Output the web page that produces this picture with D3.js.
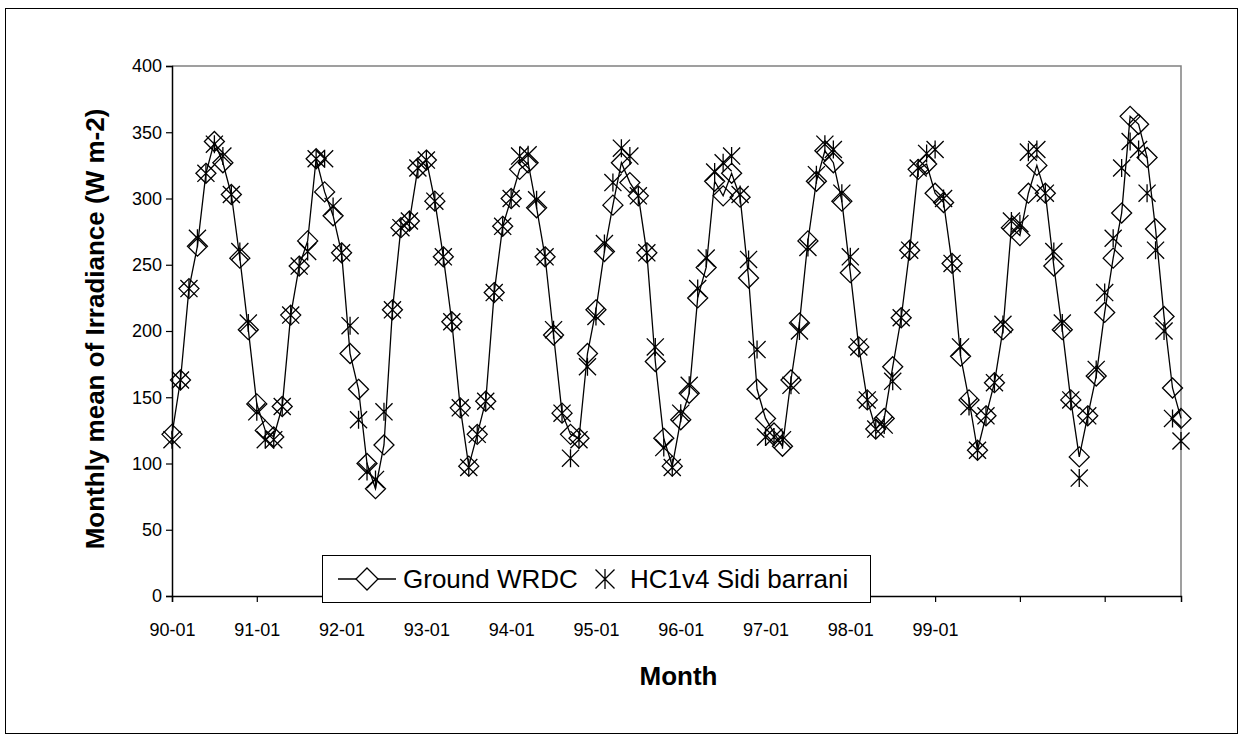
<!DOCTYPE html>
<html>
<head>
<meta charset="utf-8">
<title>Monthly mean of Irradiance</title>
<script src="https://d3js.org/d3.v7.min.js"></script>
<style>
  body { margin: 0; background: #fff; }
  text { font-family: Arial, "Liberation Sans", sans-serif; fill: #000; }
</style>
</head>
<body>
<svg width="1244" height="743"></svg>
<script>

// series values, one per month (120 points)
const groundWRDC = [
  122,163,232,264,319,343,327,303,255,201,145,125,
  120,143,212,249,268,330,305,287,259,183,156,100,
  81,114,216,278,283,323,329,298,256,207,142,98,
  122,147,229,279,300,322,327,293,256,197,138,122,
  119,183,216,260,295,327,312,302,259,177,119,98,
  133,153,225,248,313,302,319,301,240,156,134,123,
  113,163,206,268,313,336,327,298,244,188,148,126,
  134,173,210,261,322,326,304,297,251,181,148,110,
  136,161,201,278,272,304,325,304,249,201,148,105,
  136,166,214,255,289,362,356,331,277,211,157,134
];
const hc1v4 = [
  118,163,232,270,319,341,332,303,260,206,139,118,
  118,143,212,249,260,330,330,294,259,204,133,94,
  88,139,216,278,283,323,329,298,256,207,142,97,
  122,147,229,279,300,332,333,299,256,201,138,104,
  118,173,211,266,312,338,332,302,259,188,112,97,
  138,159,232,255,320,327,332,303,254,186,120,120,
  118,159,200,263,318,341,337,304,256,188,148,126,
  129,162,210,261,323,334,337,300,251,188,143,110,
  136,161,205,283,281,335,337,304,260,206,148,89,
  136,171,229,270,323,343,337,304,261,200,134,117
];

// category tick labels, shown every 10th month
const tickLabels = ["90-01","91-01","92-01","93-01","94-01","95-01","96-01","97-01","98-01","99-01"];
const yTicks = [0,50,100,150,200,250,300,350,400];

const seriesNames = ["Ground WRDC", "HC1v4 Sidi barrani"];

const svg = d3.select('svg');

// outer chart border
svg.append('rect')
  .attr('x', 5.5).attr('y', 8.5)
  .attr('width', 1232).attr('height', 725)
  .attr('fill', 'none').attr('stroke', '#000').attr('stroke-width', 1);

const margin = { left: 172, right: 1181, top: 66, bottom: 596 };

const x = d3.scaleLinear()
  .domain([0, groundWRDC.length - 1])
  .range([margin.left, margin.right]);

const y = d3.scaleLinear()
  .domain([0, 400])
  .range([margin.bottom, margin.top]);

// plot area frame (top & right, grey)
svg.append('path')
  .attr('d', `M${margin.left},${margin.top}H${margin.right}V${margin.bottom}`)
  .attr('fill', 'none').attr('stroke', '#808080').attr('stroke-width', 1.5);

// y axis
const yAxis = d3.axisLeft(y)
  .tickValues(yTicks)
  .tickSize(6)
  .tickPadding(4);
const yAxisG = svg.append('g')
  .attr('transform', `translate(${margin.left},0)`)
  .call(yAxis);
yAxisG.select('.domain').attr('stroke', '#000').attr('stroke-width', 1.5);
yAxisG.selectAll('.tick line').attr('stroke', '#000').attr('stroke-width', 1.2);
yAxisG.selectAll('.tick text')
  .attr('font-size', 18)
  .attr('font-family', 'Arial, "Liberation Sans", sans-serif');

// x axis: ticks every 10 months, labelled with the year labels
const xAxis = d3.axisBottom(x)
  .tickValues(d3.range(0, groundWRDC.length, 10))
  .tickFormat((d, i) => tickLabels[i] || '')
  .tickSize(6)
  .tickPadding(21);
const xAxisG = svg.append('g')
  .attr('transform', `translate(0,${margin.bottom})`)
  .call(xAxis);
xAxisG.select('.domain').attr('stroke', '#000').attr('stroke-width', 1.5);
xAxisG.selectAll('.tick line').attr('stroke', '#000').attr('stroke-width', 1.2);
xAxisG.selectAll('.tick text')
  .attr('font-size', 18)
  .attr('font-family', 'Arial, "Liberation Sans", sans-serif');

// axis titles
svg.append('text')
  .attr('transform', `translate(104,${(margin.top + margin.bottom) / 2 - 2}) rotate(-90)`)
  .attr('text-anchor', 'middle')
  .attr('font-size', 26)
  .attr('font-weight', 'bold')
  .text('Monthly mean of Irradiance (W m-2)');

svg.append('text')
  .attr('x', (margin.left + margin.right) / 2 + 2)
  .attr('y', 685)
  .attr('text-anchor', 'middle')
  .attr('font-size', 26)
  .attr('font-weight', 'bold')
  .text('Month');

// markers
const diamond = (s) => `M0,${-s}L${s},0L0,${s}L${-s},0Z`;
const asterisk = (s) => {
  const d = s * 0.95;
  return `M${-d},${-d}L${d},${d}M${-d},${d}L${d},${-d}M0,${-s}V${s}`;
};

const line = d3.line()
  .x((d, i) => x(i))
  .y(d => y(d));

svg.append('path')
  .datum(groundWRDC)
  .attr('d', line)
  .attr('fill', 'none')
  .attr('stroke', '#000')
  .attr('stroke-width', 1.3);

svg.append('g').selectAll('path')
  .data(groundWRDC)
  .join('path')
  .attr('transform', (d, i) => `translate(${x(i)},${y(d)})`)
  .attr('d', diamond(10))
  .attr('fill', 'none')
  .attr('stroke', '#000')
  .attr('stroke-width', 1.3);

svg.append('g').selectAll('path')
  .data(hc1v4)
  .join('path')
  .attr('transform', (d, i) => `translate(${x(i)},${y(d)})`)
  .attr('d', asterisk(9))
  .attr('fill', 'none')
  .attr('stroke', '#000')
  .attr('stroke-width', 1.3);

// legend
const legend = svg.append('g').attr('transform', 'translate(322,555)');
legend.append('rect')
  .attr('x', 0.5).attr('y', 0.5)
  .attr('width', 548).attr('height', 47)
  .attr('fill', '#fff').attr('stroke', '#000').attr('stroke-width', 1);

legend.append('line')
  .attr('x1', 16).attr('x2', 74).attr('y1', 24).attr('y2', 24)
  .attr('stroke', '#000').attr('stroke-width', 1.3);
legend.append('path')
  .attr('transform', 'translate(45,24)')
  .attr('d', diamond(11))
  .attr('fill', '#fff').attr('stroke', '#000').attr('stroke-width', 1.3);
legend.append('text')
  .attr('x', 81).attr('y', 33)
  .attr('font-size', 26)
  .text(seriesNames[0]);

legend.append('path')
  .attr('transform', 'translate(283,24)')
  .attr('d', asterisk(10))
  .attr('fill', 'none').attr('stroke', '#000').attr('stroke-width', 1.3);
legend.append('text')
  .attr('x', 308).attr('y', 33)
  .attr('font-size', 26)
  .text(seriesNames[1]);

</script>
</body>
</html>
